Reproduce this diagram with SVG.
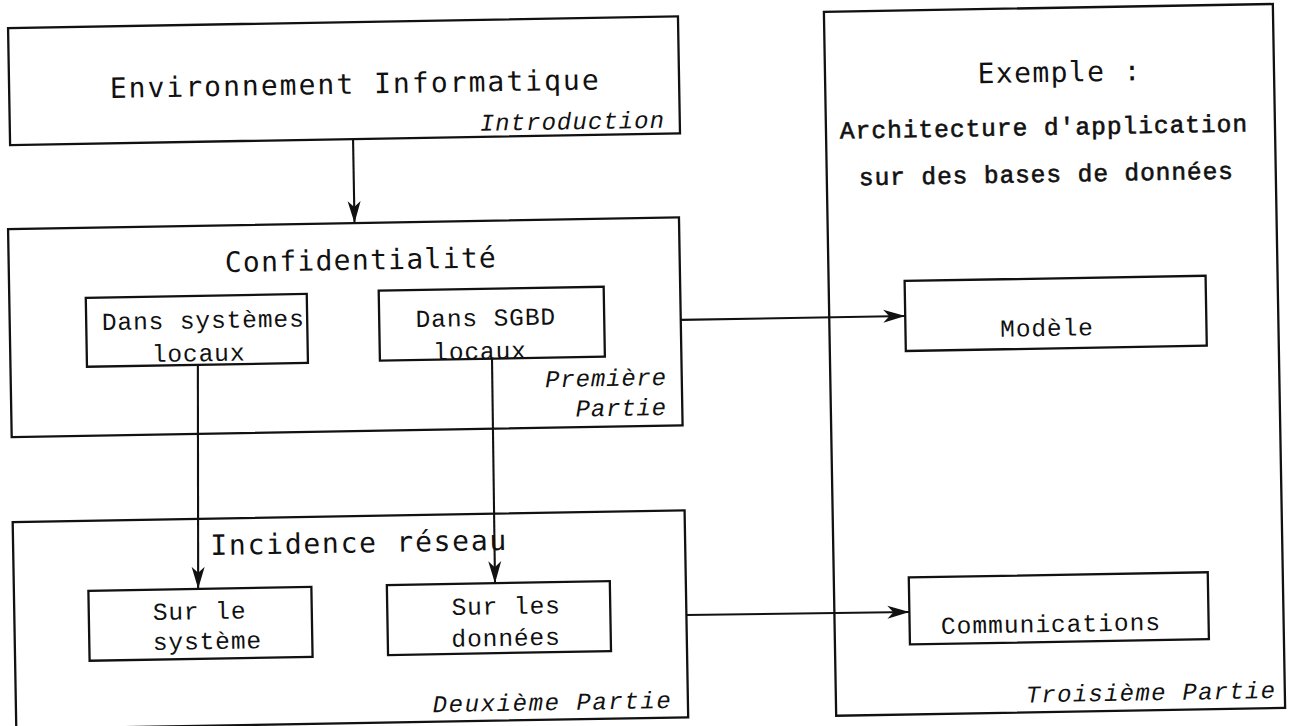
<svg xmlns="http://www.w3.org/2000/svg" width="1293" height="726" viewBox="0 0 1293 726">
<style>
.box{fill:none;stroke:#111;stroke-width:2.3}
.ttl{font-family:"DejaVu Sans Mono","Liberation Mono",monospace;font-size:28px;fill:#111}
.tw{font-family:"Liberation Mono","Courier New",monospace;font-size:24.5px;letter-spacing:0.9px;fill:#111}
.hv{stroke:#111;stroke-width:0.6}
.it{font-family:"Liberation Mono","Courier New",monospace;font-size:24px;letter-spacing:0.8px;font-style:italic;fill:#111}
.cn{stroke:#111;stroke-width:2.1;fill:none}
</style>
<defs>
<marker id="ah" markerUnits="userSpaceOnUse" markerWidth="24" markerHeight="16" refX="22" refY="8" orient="auto"><path d="M0,1.5 L22,8 L0,14.5 L6,8 z" fill="#111"/></marker>
</defs>
<rect width="1293" height="726" fill="#fff"/>
<g transform="rotate(-1 646 363)">
<g id="environnement">
<rect class="box" x="14" y="17" width="670" height="117"/>
<text class="ttl" x="114.6" y="88.6" textLength="489" lengthAdjust="spacing">Environnement Informatique</text>
<text class="it" x="669" y="128" text-anchor="end" textLength="185" lengthAdjust="spacing">Introduction</text>
</g>
<g id="confidentialite">
<rect class="box" x="10.5" y="218" width="671" height="208"/>
<text class="ttl" x="226.6" y="264.7" textLength="271" lengthAdjust="spacing">Confidentialité</text>
<text class="it" x="666.6" y="385.4" text-anchor="end">Première</text>
<text class="it" x="666.1" y="415.4" text-anchor="end">Partie</text>
</g>
<g id="dans-systemes">
<rect class="box" x="87" y="288" width="221" height="69"/>
<text class="tw" x="102.6" y="320.5">Dans systèmes</text>
<text class="tw" x="152" y="353.4">locaux</text>
</g>
<g id="dans-sgbd">
<rect class="box" x="380" y="286" width="225" height="70"/>
<text class="tw" x="416.4" y="323">Dans SGBD</text>
<text class="tw" x="433.4" y="356.3">locaux</text>
</g>
<g id="incidence">
<rect class="box" x="10" y="511" width="672" height="207"/>
<text class="ttl" x="207.2" y="547.4" textLength="296" lengthAdjust="spacing">Incidence réseau</text>
<text class="it" x="665.7" y="708.4" text-anchor="end" textLength="239" lengthAdjust="spacing">Deuxième Partie</text>
</g>
<g id="sur-systeme">
<rect class="box" x="84.5" y="581" width="223" height="70"/>
<text class="tw" x="148.5" y="611.4">Sur le</text>
<text class="tw" x="148" y="641.4">système</text>
</g>
<g id="sur-donnees">
<rect class="box" x="383" y="580.5" width="223" height="70"/>
<text class="tw" x="447.3" y="611.6">Sur les</text>
<text class="tw" x="446.7" y="643.3">données</text>
</g>
<g id="exemple">
<rect class="box" x="830" y="15" width="449" height="704"/>
<text class="ttl" x="1064" y="89" text-anchor="middle" textLength="163" lengthAdjust="spacing">Exemple :</text>
<text class="tw hv" x="1048" y="142" text-anchor="middle" textLength="408" lengthAdjust="spacing">Architecture d'application</text>
<text class="tw hv" x="1049.6" y="189" text-anchor="middle" textLength="375" lengthAdjust="spacing">sur des bases de données</text>
<text class="it" x="1270" y="709" text-anchor="end" textLength="250" lengthAdjust="spacing">Troisième Partie</text>
</g>
<g id="modele">
<rect class="box" x="906" y="285.5" width="301" height="70"/>
<text class="tw" x="1047.5" y="343" text-anchor="middle">Modèle</text>
</g>
<g id="communications">
<rect class="box" x="905" y="582" width="299" height="67"/>
<text class="tw" x="1046.3" y="639" text-anchor="middle" textLength="220" lengthAdjust="spacing">Communications</text>
</g>
<g id="connectors">
<line class="cn" x1="357" y1="134" x2="357" y2="218" marker-end="url(#ah)"/>
<line class="cn" x1="197.9" y1="357" x2="194.3" y2="581" marker-end="url(#ah)"/>
<line class="cn" x1="492.1" y1="356" x2="491.2" y2="580.5" marker-end="url(#ah)"/>
<line class="cn" x1="681.5" y1="320.5" x2="906" y2="320.5" marker-end="url(#ah)"/>
<line class="cn" x1="682" y1="615.7" x2="905" y2="616.5" marker-end="url(#ah)"/>
</g>
</g>
</svg>
